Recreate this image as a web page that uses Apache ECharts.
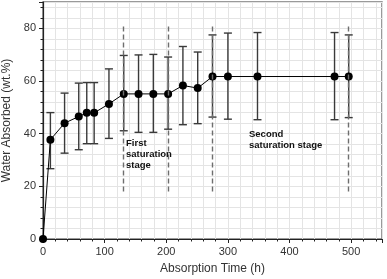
<!DOCTYPE html>
<html>
<head>
<meta charset="utf-8">
<script src="https://cdn.jsdelivr.net/npm/echarts@6/dist/echarts.min.js"></script>
<style>
  html, body { margin: 0; padding: 0; background: #fff; }
  #chart { width: 387px; height: 279px; }
</style>
</head>
<body>
<div id="chart"></div>
<script>
// absorption time (h) and mean water absorbed (wt.%)
var times = [0, 12, 35, 58, 71, 83, 107, 131, 155, 179, 203, 227, 251, 275, 300, 348, 473, 496];
var absorbed = [0, 37.7, 44.0, 46.5, 47.9, 47.9, 51.3, 55.1, 55.1, 55.1, 55.1, 58.3, 57.3, 61.7, 61.7, 61.7, 61.7, 61.7];
// error bar limits
var errLow = [null, 26.7, 32.6, 33.9, 36.2, 36.2, 38.2, 41.1, 40.5, 40.5, 41.7, 43.4, 43.8, 46.3, 45.5, 45.3, 45.3, 46.1];
var errHigh = [null, 48.0, 55.4, 59.2, 59.4, 59.4, 64.6, 69.7, 69.9, 70.1, 69.1, 73.1, 71.0, 77.5, 78.2, 78.4, 78.4, 77.5];
// stage boundaries (h)
var stageLines = [131, 203, 275, 496];
var stageSpan = [18, 81];

var font = 'Liberation Sans, Arial, sans-serif';

var lineData = times.map(function (t, i) { return [t, absorbed[i]]; });
var errData = [];
times.forEach(function (t, i) {
  if (errLow[i] != null) errData.push([t, errLow[i], errHigh[i]]);
});

var chart = echarts.init(document.getElementById('chart'));
var option = {
  backgroundColor: '#fff',
  animation: false,
  grid: {
    left: 43, right: 5, top: 2, bottom: 40,
    outerBoundsMode: 'none',
    containLabel: false,
    show: true, borderColor: '#7a7a7a', borderWidth: 1.5
  },
  xAxis: {
    type: 'value', min: 0, max: 550, interval: 100,
    name: 'Absorption Time (h)', nameLocation: 'middle', nameGap: 24,
    nameTextStyle: { fontFamily: font, fontSize: 12, color: '#333' },
    axisLine: { lineStyle: { color: '#222', width: 1.2 } },
    axisTick: { length: 4, lineStyle: { color: '#222' } },
    minorTick: { show: true, splitNumber: 5, length: 2.5, lineStyle: { color: '#222' } },
    axisLabel: {
      fontFamily: font, fontSize: 11, color: '#333', margin: 7,
      formatter: function (v) { return v <= 500 ? v : ''; }
    },
    splitLine: { lineStyle: { color: '#e4e4e4' } },
    minorSplitLine: { show: true, lineStyle: { color: '#e4e4e4' } }
  },
  yAxis: {
    type: 'value', min: 0, max: 90, interval: 20,
    name: 'Water Absorbed (wt.%)', nameLocation: 'middle', nameGap: 27,
    nameTextStyle: { fontFamily: font, fontSize: 12, color: '#333' },
    axisLine: { show: true, lineStyle: { color: '#222', width: 1.2 } },
    axisTick: { show: true, length: 4, lineStyle: { color: '#222' } },
    minorTick: { show: true, splitNumber: 5, length: 2.5, lineStyle: { color: '#222' } },
    axisLabel: {
      fontFamily: font, fontSize: 11, color: '#333', margin: 7,
      formatter: function (v) { return v <= 80 ? v : ''; }
    },
    splitLine: { lineStyle: { color: '#e4e4e4' } },
    minorSplitLine: { show: true, lineStyle: { color: '#e4e4e4' } }
  },
  series: [
    {
      type: 'custom',
      z: 2,
      data: errData,
      renderItem: function (params, api) {
        var x = api.value(0);
        var lo = api.coord([x, api.value(1)]);
        var hi = api.coord([x, api.value(2)]);
        var w = 4;
        var style = { stroke: '#3a3a3a', lineWidth: 1.4 };
        return {
          type: 'group',
          children: [
            { type: 'line', shape: { x1: lo[0], y1: lo[1], x2: hi[0], y2: hi[1] }, style: style },
            { type: 'line', shape: { x1: lo[0] - w, y1: lo[1], x2: lo[0] + w, y2: lo[1] }, style: style },
            { type: 'line', shape: { x1: hi[0] - w, y1: hi[1], x2: hi[0] + w, y2: hi[1] }, style: style }
          ]
        };
      }
    },
    {
      type: 'line',
      z: 3,
      data: lineData,
      symbol: 'circle',
      symbolSize: 8,
      itemStyle: { color: '#000' },
      lineStyle: { color: '#000', width: 1 },
      markLine: {
        silent: true,
        symbol: 'none',
        label: { show: false },
        lineStyle: { color: '#6e6e6e', type: [5, 3], width: 1.4 },
        data: stageLines.map(function (x) {
          return [{ coord: [x, stageSpan[0]] }, { coord: [x, stageSpan[1]] }];
        })
      }
    }
  ],
  graphic: [
    {
      type: 'text', left: 126, top: 138, z: 10,
      style: {
        text: 'First\nsaturation\nstage', fill: '#111',
        font: 'bold 9.5px ' + font, lineHeight: 11
      }
    },
    {
      type: 'text', left: 249, top: 129, z: 10,
      style: {
        text: 'Second\nsaturation stage', fill: '#111',
        font: 'bold 9.5px ' + font, lineHeight: 11
      }
    }
  ]
};
chart.setOption(option);
</script>
</body>
</html>
